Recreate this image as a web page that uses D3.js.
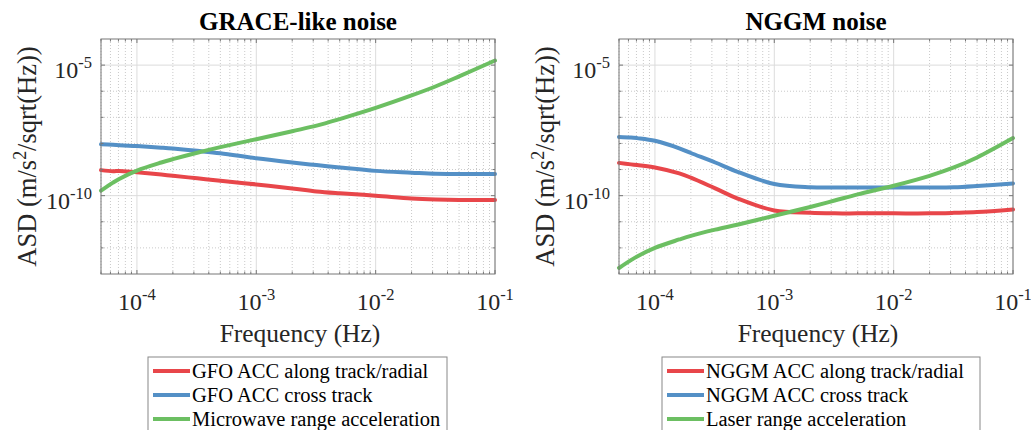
<!DOCTYPE html>
<html>
<head>
<meta charset="utf-8">
<script src="https://cdn.jsdelivr.net/npm/d3@7"></script>
<style>
  body { margin: 0; background: #fff; }
  svg { display: block; font-family: "Liberation Serif", "Times New Roman", serif; }
</style>
</head>
<body>
<div id="chart"></div>
<script>
// frequency grid (Hz) shared by all curves
const freqHz = [5e-5, 6.3e-5, 7.1e-5, 1e-4, 1.6e-4, 2e-4, 3.2e-4, 5e-4, 1e-3,
                2e-3, 3.2e-3, 5e-3, 1e-2, 2e-2, 3.2e-2, 5e-2, 1e-1];

// GRACE-like noise ASD (m/s^2/sqrt(Hz))
const gfoAlong = [9.5e-10, 8.6e-10, 8.9e-10, 7.8e-10, 6.4e-10, 5.8e-10, 4.6e-10, 3.7e-10, 2.7e-10,
                  1.9e-10, 1.45e-10, 1.23e-10, 1.0e-10, 7.8e-11, 7.1e-11, 6.8e-11, 6.8e-11];
const gfoCross = [9.3e-9, 8.9e-9, 8.6e-9, 7.9e-9, 6.9e-9, 6.4e-9, 5.2e-9, 4.2e-9, 2.7e-9,
                  1.86e-9, 1.48e-9, 1.2e-9, 8.9e-10, 7.6e-10, 6.9e-10, 6.8e-10, 6.8e-10];
const microwave = [1.55e-10, 3.16e-10, 4.37e-10, 9.1e-10, 1.86e-9, 2.5e-9, 4.4e-9, 7.2e-9, 1.45e-8,
                   2.95e-8, 4.8e-8, 8.6e-8, 2.3e-7, 6.9e-7, 1.55e-6, 3.7e-6, 1.5e-5];

// NGGM noise ASD
const nggmAlong = [1.8e-9, 1.58e-9, 1.48e-9, 1.2e-9, 7.1e-10, 4.9e-10, 1.9e-10, 7.6e-11, 2.7e-11,
                   2.2e-11, 2.1e-11, 2.1e-11, 2.1e-11, 2.1e-11, 2.2e-11, 2.35e-11, 2.95e-11];
const nggmCross = [1.78e-8, 1.7e-8, 1.6e-8, 1.26e-8, 6.5e-9, 4.3e-9, 1.86e-9, 8.0e-10, 2.8e-10,
                   2.1e-10, 2.05e-10, 2.05e-10, 2.05e-10, 2.05e-10, 2.1e-10, 2.35e-10, 2.95e-10];
const laser = [1.7e-13, 3.4e-13, 4.7e-13, 1.0e-12, 2.1e-12, 2.9e-12, 5.0e-12, 7.9e-12, 1.7e-11,
               3.7e-11, 6.5e-11, 1.12e-10, 2.4e-10, 5.75e-10, 1.2e-9, 2.9e-9, 1.6e-8];

const titles = ["GRACE-like noise", "NGGM noise"];
const legendGrace = ["GFO ACC along track/radial", "GFO ACC cross track", "Microwave range acceleration"];
const legendNggm = ["NGGM ACC along track/radial", "NGGM ACC cross track", "Laser range acceleration"];
const xTickExp = [-4, -3, -2, -1];
const yTickExp = [-5, -10];
const colors = ["#e8464a", "#5490c6", "#6cbf62"];

const width = 1031, height = 430;
const svg = d3.select("#chart").append("svg")
    .attr("width", width)
    .attr("height", height);

svg.append("rect").attr("width", width).attr("height", height).attr("fill", "#fff");

const plotTop = 39, plotBottom = 274;

function drawPanel(left, right, title, series, labels, legendBox) {
    const x = d3.scaleLog().domain([5e-5, 0.1]).range([left, right]);
    const y = d3.scaleLog().domain([1e-13, 1e-4]).range([plotBottom, plotTop]);
    const g = svg.append("g");

    // minor grid (dotted)
    const xMinor = [];
    for (let e = -5; e <= -2; e++) {
        for (let m = 2; m <= 9; m++) {
            const v = m * Math.pow(10, e);
            if (v >= 5e-5 && v <= 0.1) xMinor.push(v);
        }
    }
    const yMinor = d3.range(-12, -4).filter(e => !yTickExp.includes(e)).map(e => Math.pow(10, e));

    g.selectAll(".xminor").data(xMinor).enter().append("line")
        .attr("x1", d => x(d)).attr("x2", d => x(d))
        .attr("y1", plotTop).attr("y2", plotBottom)
        .attr("stroke", "#c9c9c9").attr("stroke-dasharray", "1,2");
    g.selectAll(".yminor").data(yMinor).enter().append("line")
        .attr("x1", left).attr("x2", right)
        .attr("y1", d => y(d)).attr("y2", d => y(d))
        .attr("stroke", "#c9c9c9").attr("stroke-dasharray", "1,2");

    // major grid
    g.selectAll(".xmajor").data(xTickExp).enter().append("line")
        .attr("x1", d => x(Math.pow(10, d))).attr("x2", d => x(Math.pow(10, d)))
        .attr("y1", plotTop).attr("y2", plotBottom)
        .attr("stroke", "#dcdcdc");
    g.selectAll(".ymajor").data(yTickExp).enter().append("line")
        .attr("x1", left).attr("x2", right)
        .attr("y1", d => y(Math.pow(10, d))).attr("y2", d => y(Math.pow(10, d)))
        .attr("stroke", "#dcdcdc");

    // curves
    const line = d3.line()
        .x((d, i) => x(freqHz[i]))
        .y(d => y(d))
        .curve(d3.curveCatmullRom.alpha(0.5));
    series.forEach((s, i) => {
        g.append("path")
            .attr("d", line(s))
            .attr("fill", "none")
            .attr("stroke", colors[i])
            .attr("stroke-width", 4)
            .attr("stroke-linecap", "round");
    });

    // box
    g.append("rect")
        .attr("x", left).attr("y", plotTop)
        .attr("width", right - left).attr("height", plotBottom - plotTop)
        .attr("fill", "none").attr("stroke", "#777").attr("stroke-width", 1);

    // ticks (inward)
    const tk = 4, tkm = 2.5;
    xTickExp.forEach(e => {
        const px = x(Math.pow(10, e));
        g.append("line").attr("x1", px).attr("x2", px).attr("y1", plotBottom).attr("y2", plotBottom - tk).attr("stroke", "#777");
        g.append("line").attr("x1", px).attr("x2", px).attr("y1", plotTop).attr("y2", plotTop + tk).attr("stroke", "#777");
    });
    xMinor.forEach(v => {
        const px = x(v);
        g.append("line").attr("x1", px).attr("x2", px).attr("y1", plotBottom).attr("y2", plotBottom - tkm).attr("stroke", "#777");
        g.append("line").attr("x1", px).attr("x2", px).attr("y1", plotTop).attr("y2", plotTop + tkm).attr("stroke", "#777");
    });
    yTickExp.forEach(e => {
        const py = y(Math.pow(10, e));
        g.append("line").attr("x1", left).attr("x2", left + tk).attr("y1", py).attr("y2", py).attr("stroke", "#777");
        g.append("line").attr("x1", right).attr("x2", right - tk).attr("y1", py).attr("y2", py).attr("stroke", "#777");
    });
    yMinor.forEach(v => {
        const py = y(v);
        g.append("line").attr("x1", left).attr("x2", left + tkm).attr("y1", py).attr("y2", py).attr("stroke", "#777");
        g.append("line").attr("x1", right).attr("x2", right - tkm).attr("y1", py).attr("y2", py).attr("stroke", "#777");
    });

    // tick labels
    xTickExp.forEach(e => {
        const t = g.append("text")
            .attr("x", x(Math.pow(10, e))).attr("y", 310)
            .attr("text-anchor", "middle").attr("fill", "#262626")
            .style("font-size", "24px");
        t.append("tspan").text("10");
        t.append("tspan").attr("dy", -10).style("font-size", "16.5px").text(e);
    });
    yTickExp.forEach(e => {
        const t = g.append("text")
            .attr("x", left - 9).attr("y", y(Math.pow(10, e)) + 13)
            .attr("text-anchor", "end").attr("fill", "#262626")
            .style("font-size", "24px");
        t.append("tspan").text("10");
        t.append("tspan").attr("dy", -10).style("font-size", "16.5px").text(e);
    });

    const cx = (left + right) / 2;
    // title
    g.append("text")
        .attr("x", cx).attr("y", 30)
        .attr("text-anchor", "middle").attr("fill", "#000")
        .style("font-size", "25px").style("font-weight", "bold")
        .text(title);

    // x label
    g.append("text")
        .attr("x", cx + 2).attr("y", 342)
        .attr("text-anchor", "middle").attr("fill", "#262626")
        .style("font-size", "25.5px")
        .text("Frequency (Hz)");

    // y label
    const yl = g.append("text")
        .attr("transform", `translate(${left - 65},${(plotTop + plotBottom) / 2}) rotate(-90)`)
        .attr("text-anchor", "middle").attr("fill", "#262626")
        .style("font-size", "26.5px");
    yl.append("tspan").text("ASD (m/s");
    yl.append("tspan").attr("dy", -10).style("font-size", "18px").text("2");
    yl.append("tspan").attr("dy", 10).text("/sqrt(Hz))");

    // legend
    g.append("rect")
        .attr("x", legendBox[0]).attr("y", 357)
        .attr("width", legendBox[1] - legendBox[0]).attr("height", 100)
        .attr("fill", "#fff").attr("stroke", "#888");
    labels.forEach((lab, i) => {
        const ly = 371 + i * 24;
        g.append("line")
            .attr("x1", legendBox[0] + 5).attr("x2", legendBox[0] + 42)
            .attr("y1", ly).attr("y2", ly)
            .attr("stroke", colors[i]).attr("stroke-width", 4);
        g.append("text")
            .attr("x", legendBox[0] + 44).attr("y", ly + 7)
            .attr("fill", "#000")
            .style("font-size", "20.5px")
            .text(lab);
    });
}

drawPanel(101, 495, titles[0], [gfoAlong, gfoCross, microwave], legendGrace, [148, 447]);
drawPanel(619, 1013, titles[1], [nggmAlong, nggmCross, laser], legendNggm, [662, 980]);
</script>
</body>
</html>
